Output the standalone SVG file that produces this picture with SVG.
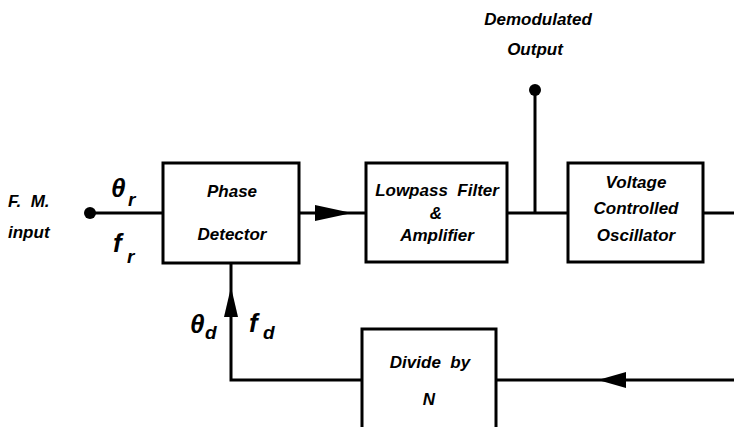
<svg xmlns="http://www.w3.org/2000/svg" width="734" height="427" viewBox="0 0 734 427">
<style>
.box{fill:#fff;stroke:#000;stroke-width:3}
.ln{fill:none;stroke:#000;stroke-width:3}
.t{font-family:"Liberation Sans",Arial,sans-serif;font-weight:bold;font-style:italic;font-size:17px;text-anchor:middle;fill:#000;white-space:pre}
.g{font-family:"Liberation Sans",Arial,sans-serif;font-weight:bold;font-style:italic;font-size:26px;fill:#000}
.s{font-family:"Liberation Sans",Arial,sans-serif;font-weight:bold;font-style:italic;font-size:19px;fill:#000}
</style>
<rect width="734" height="427" fill="#fff"/>
<g id="connectors">
<line class="ln" x1="90" y1="213" x2="163" y2="213"/>
<circle cx="90" cy="213" r="6" fill="#000"/>
<line class="ln" x1="299" y1="213" x2="366" y2="213"/>
<polygon points="315,205 352,213 315,221" fill="#000"/>
<line class="ln" x1="507" y1="213" x2="568" y2="213"/>
<line class="ln" x1="535" y1="90" x2="535" y2="213"/>
<circle cx="535" cy="90" r="6" fill="#000"/>
<line class="ln" x1="703" y1="213" x2="734" y2="213"/>
<polyline class="ln" points="734,380 496,380"/>
<polygon points="626,372 598,380 626,388" fill="#000"/>
<polyline class="ln" points="362,380 231,380 231,263"/>
<polygon points="224,317 231,287 238,317" fill="#000"/>
</g>
<g id="input-label">
<text class="t" x="8" y="207" style="text-anchor:start">F.  M.</text>
<text class="t" x="8" y="238" style="text-anchor:start">input</text>
<text class="g" x="111" y="197">θ</text>
<text class="s" x="128" y="206">r</text>
<text class="g" x="113" y="252">f</text>
<text class="s" x="127" y="263">r</text>
</g>
<g id="phase-detector">
<rect class="box" x="163" y="163" width="136" height="100"/>
<text class="t" x="232" y="197">Phase</text>
<text class="t" x="232" y="240">Detector</text>
</g>
<g id="lowpass">
<rect class="box" x="366" y="163" width="141" height="99"/>
<text class="t" x="437" y="196">Lowpass  Filter</text>
<text class="t" x="436" y="219">&amp;</text>
<text class="t" x="437" y="241">Amplifier</text>
</g>
<g id="vco">
<rect class="box" x="568" y="163" width="135" height="99"/>
<text class="t" x="636" y="188">Voltage</text>
<text class="t" x="636" y="214">Controlled</text>
<text class="t" x="636" y="241">Oscillator</text>
</g>
<g id="demod-output">
<text class="t" x="538" y="25">Demodulated</text>
<text class="t" x="535" y="55">Output</text>
</g>
<g id="feedback-labels">
<text class="g" x="190" y="333">θ</text>
<text class="s" x="205" y="339">d</text>
<text class="g" x="249" y="332">f</text>
<text class="s" x="263" y="339">d</text>
</g>
<g id="divide">
<rect class="box" x="362" y="329" width="134" height="110"/>
<text class="t" x="430" y="368">Divide  by</text>
<text class="t" x="429" y="405">N</text>
</g>
</svg>
